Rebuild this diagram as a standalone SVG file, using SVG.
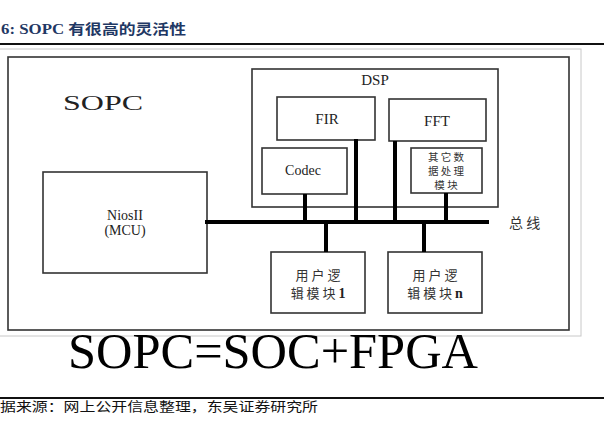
<svg xmlns="http://www.w3.org/2000/svg" width="604" height="424" viewBox="0 0 604 424">
<style>
.box{fill:none;stroke:#333;stroke-width:1.6}
.t{font-family:Liberation Serif, serif;fill:#222}
.cjk{font-family:Noto Sans CJK SC, sans-serif;fill:#333}
.bus{stroke:#000;stroke-width:4;fill:none}
</style>
<rect width="604" height="424" fill="#fff"/>
<text x="1" y="34" font-size="14" font-weight="bold" fill="#1f3864" textLength="185" lengthAdjust="spacingAndGlyphs"><tspan class="t" style="fill:#1f3864">6:  SOPC </tspan><tspan class="cjk" style="fill:#1f3864">有很高的灵活性</tspan></text>
<line x1="0" y1="44" x2="604" y2="44" stroke="#111" stroke-width="1.8"/>
<rect x="-2" y="49" width="583" height="287" fill="none" stroke="#c8c8c8" stroke-width="1"/>
<rect x="8" y="57" width="561" height="273" class="box"/>
<text x="63" y="110" class="t" font-size="20" textLength="80" lengthAdjust="spacingAndGlyphs">SOPC</text>

<g id="dsp">
<rect x="252" y="69" width="246" height="138" class="box"/>
<text x="375" y="85" class="t" font-size="15" text-anchor="middle">DSP</text>
</g>
<g id="fir">
<rect x="277" y="97" width="98" height="43" class="box"/>
<text x="327" y="124" class="t" font-size="15" text-anchor="middle">FIR</text>
</g>
<g id="fft">
<rect x="389" y="99" width="97" height="42" class="box"/>
<text x="437" y="126" class="t" font-size="15" text-anchor="middle">FFT</text>
</g>
<g id="codec">
<rect x="262" y="148" width="85" height="46" class="box"/>
<text x="303" y="175" class="t" font-size="14" text-anchor="middle">Codec</text>
</g>
<g id="other">
<rect x="411" y="148" width="71" height="45" class="box"/>
<text x="446" y="161" class="cjk" font-size="10.5" text-anchor="middle">其 它 数</text>
<text x="446" y="175" class="cjk" font-size="10.5" text-anchor="middle">据 处 理</text>
<text x="446" y="189" class="cjk" font-size="10.5" text-anchor="middle">模 块</text>
</g>
<g id="nios">
<rect x="43" y="172" width="164" height="101" class="box"/>
<text x="125" y="220" class="t" font-size="14" text-anchor="middle">NiosII</text>
<text x="125" y="235" class="t" font-size="14" text-anchor="middle">(MCU)</text>
</g>
<g id="user1">
<rect x="271" y="252" width="94" height="61" class="box"/>
<text x="318" y="280" class="cjk" font-size="13" text-anchor="middle">用 户 逻</text>
<text x="318" y="298" class="cjk" font-size="13" text-anchor="middle">辑 模 块 <tspan class="t" font-weight="bold" font-size="14">1</tspan></text>
</g>
<g id="usern">
<rect x="388" y="252" width="94" height="61" class="box"/>
<text x="435" y="280" class="cjk" font-size="13" text-anchor="middle">用 户 逻</text>
<text x="435" y="298" class="cjk" font-size="13" text-anchor="middle">辑 模 块 <tspan class="t" font-weight="bold" font-size="14">n</tspan></text>
</g>
<g id="connectors">
<line x1="205" y1="222" x2="489" y2="222" class="bus"/>
<line x1="305" y1="194" x2="305" y2="222" class="bus"/>
<line x1="356" y1="139" x2="356" y2="222" class="bus"/>
<line x1="395" y1="141" x2="395" y2="222" class="bus"/>
<line x1="446" y1="193" x2="446" y2="222" class="bus"/>
<line x1="326" y1="222" x2="326" y2="252" class="bus"/>
<line x1="424" y1="222" x2="424" y2="252" class="bus"/>
</g>
<text x="509" y="228" class="cjk" font-size="14">总 线</text>
<text x="68" y="368" class="t" font-size="50" textLength="410" lengthAdjust="spacingAndGlyphs" style="fill:#000">SOPC=SOC+FPGA</text>
<line x1="0" y1="398" x2="604" y2="398" stroke="#111" stroke-width="1.8"/>
<text x="0" y="411" class="cjk" font-size="13" textLength="318" lengthAdjust="spacingAndGlyphs" style="fill:#111">据来源：网上公开信息整理，东吴证券研究所</text>
</svg>
